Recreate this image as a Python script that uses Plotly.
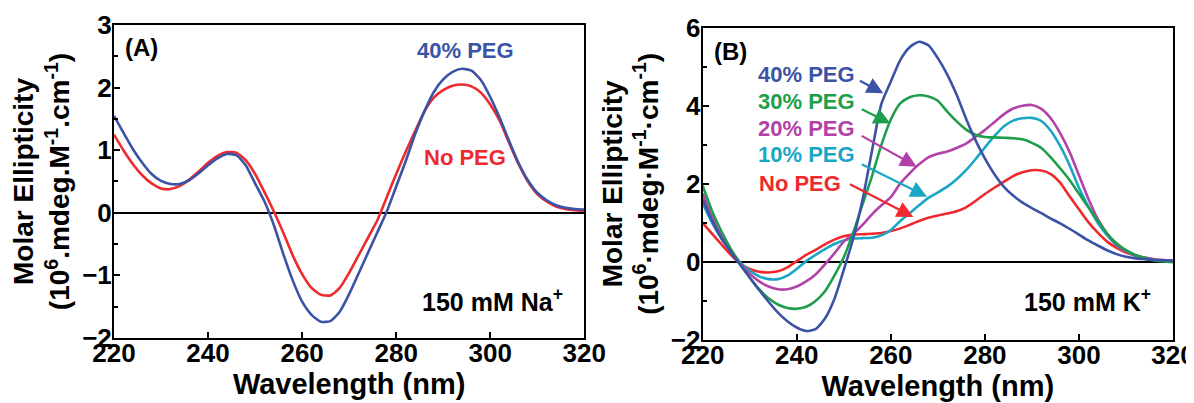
import plotly.graph_objects as go

# ---------------- data ----------------
wavelength = list(range(220, 321, 2))

# Panel A: 150 mM Na+
na_40peg = [1.55, 1.28, 1.02, 0.80, 0.62, 0.51, 0.46, 0.46, 0.52, 0.63,
            0.76, 0.87, 0.94, 0.92, 0.76, 0.47, 0.18, -0.20, -0.66, -1.08,
            -1.42, -1.63, -1.74, -1.73, -1.58, -1.30, -0.97, -0.64, -0.31, 0.02,
            0.42, 0.82, 1.25, 1.62, 1.93, 2.13, 2.25, 2.30, 2.27, 2.12,
            1.85, 1.52, 1.15, 0.80, 0.52, 0.32, 0.20, 0.12, 0.08, 0.06, 0.05]
na_nopeg = [1.25, 1.00, 0.78, 0.60, 0.47, 0.39, 0.38, 0.43, 0.53, 0.66,
            0.80, 0.91, 0.97, 0.96, 0.84, 0.62, 0.33, 0.02, -0.32, -0.68,
            -0.98, -1.20, -1.31, -1.32, -1.20, -0.96, -0.68, -0.40, -0.12, 0.25,
            0.62, 0.97, 1.30, 1.62, 1.84, 1.96, 2.03, 2.05, 2.02, 1.92,
            1.73, 1.47, 1.12, 0.78, 0.50, 0.30, 0.18, 0.10, 0.06, 0.04, 0.03]

# Panel B: 150 mM K+
k_40peg = [1.60, 1.05, 0.60, 0.25, -0.08, -0.40, -0.72, -1.02, -1.30, -1.52,
           -1.68, -1.77, -1.72, -1.45, -0.95, -0.20, 0.60, 1.60, 2.85, 4.05,
           4.62, 5.17, 5.50, 5.64, 5.55, 5.22, 4.80, 4.28, 3.67, 3.12,
           2.65, 2.25, 1.93, 1.70, 1.52, 1.38, 1.25, 1.11, 0.99, 0.85,
           0.70, 0.55, 0.42, 0.30, 0.20, 0.13, 0.09, 0.07, 0.05, 0.04, 0.03]
k_30peg = [1.95, 1.30, 0.78, 0.33, -0.05, -0.40, -0.70, -0.93, -1.09, -1.18,
           -1.20, -1.15, -1.00, -0.75, -0.35, 0.12, 0.75, 1.48, 2.20, 3.00,
           3.65, 4.06, 4.22, 4.27, 4.24, 4.13, 3.85, 3.60, 3.39, 3.26,
           3.20, 3.19, 3.18, 3.17, 3.14, 3.05, 2.92, 2.68, 2.40, 2.10,
           1.75, 1.40, 1.05, 0.72, 0.48, 0.30, 0.18, 0.10, 0.04, 0.01, -0.01]
k_20peg = [1.75, 1.15, 0.68, 0.30, -0.03, -0.30, -0.50, -0.63, -0.70, -0.70,
           -0.63, -0.50, -0.32, -0.06, 0.22, 0.52, 0.72, 0.95, 1.22, 1.45,
           1.66, 2.01, 2.27, 2.50, 2.68, 2.77, 2.83, 2.92, 3.03, 3.20,
           3.38, 3.58, 3.78, 3.93, 4.00, 4.02, 3.92, 3.68, 3.30, 2.82,
           2.22, 1.62, 1.10, 0.72, 0.45, 0.28, 0.17, 0.11, 0.07, 0.05, 0.04]
k_10peg = [1.50, 1.00, 0.60, 0.27, -0.02, -0.22, -0.37, -0.44, -0.44, -0.35,
           -0.18, 0.02, 0.18, 0.33, 0.46, 0.55, 0.60, 0.61, 0.62, 0.68,
           0.82, 1.05, 1.25, 1.45, 1.64, 1.78, 1.93, 2.12, 2.35, 2.63,
           2.93, 3.22, 3.47, 3.62, 3.68, 3.69, 3.61, 3.36, 2.97, 2.48,
           1.90, 1.42, 1.00, 0.68, 0.43, 0.27, 0.16, 0.10, 0.06, 0.04, 0.03]
k_nopeg = [1.00, 0.72, 0.45, 0.18, -0.05, -0.18, -0.25, -0.27, -0.24, -0.14,
           0.02, 0.18, 0.31, 0.45, 0.57, 0.66, 0.70, 0.71, 0.72, 0.74,
           0.79, 0.86, 0.95, 1.05, 1.13, 1.19, 1.24, 1.30, 1.40, 1.56,
           1.74, 1.90, 2.05, 2.20, 2.30, 2.35, 2.34, 2.25, 2.03, 1.68,
           1.35, 1.02, 0.75, 0.52, 0.36, 0.24, 0.16, 0.10, 0.06, 0.04, 0.03]

x_ticks = [220, 240, 260, 280, 300, 320]

# label / arrow anchors (data units)
k_labels = ["40% PEG", "30% PEG", "20% PEG", "10% PEG", "No PEG"]
k_label_pos = [(242.0, 4.81), (242.0, 4.10), (242.0, 3.42), (242.0, 2.74), (240.7, 2.01)]
k_arrow_tail = [(253.1, 4.66), (253.5, 3.93), (253.5, 3.25), (253.5, 2.52), (251.0, 2.01)]
k_arrow_head = [(258.4, 4.32), (259.9, 3.55), (265.5, 2.44), (267.7, 1.67), (264.8, 1.15)]

# ---------------- style ----------------
BLUE = "#3A53A4"
RED = "#EE2A2E"
GREEN = "#1E9E4A"
MAGENTA = "#B242A8"
CYAN = "#1AA6C6"
FONT = "Arial"
LW = 2.6

fig = go.Figure()

def add(x, y, color, xa, ya):
    fig.add_trace(go.Scatter(x=x, y=y, mode="lines", xaxis=xa, yaxis=ya,
                             line=dict(color=color, width=LW, shape="spline", smoothing=0.6),
                             showlegend=False, hoverinfo="skip"))

add(wavelength, na_nopeg, RED, "x", "y")
add(wavelength, na_40peg, BLUE, "x", "y")

k_series = [k_40peg, k_30peg, k_20peg, k_10peg, k_nopeg]
k_colors = [BLUE, GREEN, MAGENTA, CYAN, RED]
for s, c in zip(reversed(k_series), reversed(k_colors)):
    add(wavelength, s, c, "x2", "y2")

ytitle_a = "Molar Ellipticity<br>(10<sup>6</sup>.mdeg.M<sup>-1</sup>.cm<sup>-1</sup>)"
ytitle_b = "Molar Ellipticity<br>(10<sup>6</sup>·mdeg·M<sup>-1</sup>·cm<sup>-1</sup>)"

common_x = dict(range=[220, 320], tickvals=x_ticks, ticks="inside", ticklen=6, tickwidth=2,
                tickcolor="black", showline=True, linecolor="black", linewidth=2, mirror=True,
                showgrid=False, zeroline=False, automargin=False,
                ticklabelstandoff=-9, ticklabeloverflow="allow",
                tickfont=dict(family=FONT, size=26, color="black", weight="bold"),
                title=dict(text="Wavelength (nm)", standoff=4,
                           font=dict(family=FONT, size=29, color="black", weight="bold")))
common_y = dict(ticks="inside", ticklen=6, tickwidth=2, tickcolor="black", showline=True,
                linecolor="black", linewidth=2, mirror=True, showgrid=False,
                zeroline=True, zerolinecolor="black", zerolinewidth=2, automargin=False,
                ticklabelstandoff=-5, ticklabeloverflow="allow",
                tickfont=dict(family=FONT, size=26, color="black", weight="bold"))

fig.update_layout(
    width=1194, height=403,
    margin=dict(l=106.3, r=29.3, t=17, b=71.3),
    paper_bgcolor="white", plot_bgcolor="white",
    xaxis=dict(domain=[0, 0.4441], anchor="y", **common_x),
    xaxis2=dict(domain=[0.5559, 1.0], anchor="y2", **common_x),
    yaxis=dict(domain=[0.0064, 1.0], anchor="x", range=[-2, 3], dtick=1,
               minor=dict(dtick=0.5, ticks="inside", ticklen=4, tickwidth=2, tickcolor="black"),
               title=dict(text=ytitle_a, standoff=5,
                          font=dict(family=FONT, size=28, color="black", weight="bold")),
               **common_y),
    yaxis2=dict(domain=[0, 0.9914], anchor="x2", range=[-2, 6], dtick=2,
                minor=dict(dtick=1, ticks="inside", ticklen=4, tickwidth=2, tickcolor="black"),
                title=dict(text=ytitle_b, standoff=4,
                           font=dict(family=FONT, size=28, color="black", weight="bold")),
                **common_y),
)

ann = []
def txt(x, y, text, color, xref, yref, size, xanchor="center"):
    ann.append(dict(x=x, y=y, xref=xref, yref=yref, text=text, showarrow=False,
                    xanchor=xanchor, yanchor="middle",
                    font=dict(family=FONT, size=size, color=color, weight="bold")))

txt(222.0, 2.64, "(A)", "black", "x", "y", 24, "left")
txt(294.8, 2.59, "40% PEG", BLUE, "x", "y", 22)
txt(294.6, 0.89, "No PEG", RED, "x", "y", 22)
txt(300.4, -1.40, "150 mM Na<sup>+</sup>", "black", "x", "y", 25)

txt(222.0, 5.40, "(B)", "black", "x2", "y2", 24, "left")
txt(301.8, -0.97, "150 mM K<sup>+</sup>", "black", "x2", "y2", 25)

for lab, pos, tail, head, col in zip(k_labels, k_label_pos, k_arrow_tail, k_arrow_head, k_colors):
    txt(pos[0], pos[1], lab, col, "x2", "y2", 22)
    ann.append(dict(x=head[0], y=head[1], ax=tail[0], ay=tail[1], xref="x2", yref="y2",
                    axref="x2", ayref="y2", text="", showarrow=True, arrowhead=2,
                    arrowsize=1.5, arrowwidth=2.2, arrowcolor=col))

fig.update_layout(annotations=ann)
fig.write_html("out.html")
